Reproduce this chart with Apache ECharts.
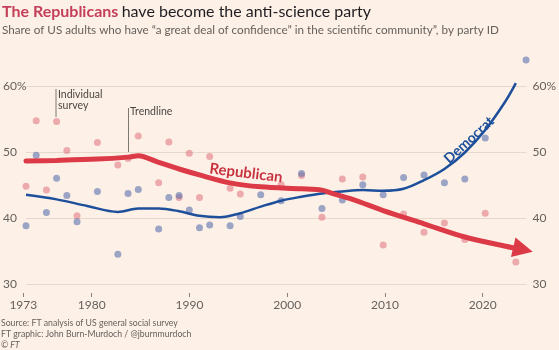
<!DOCTYPE html>
<html>
<head>
<meta charset="utf-8">
<script src="https://cdn.jsdelivr.net/npm/echarts@6/dist/echarts.min.js"></script>
<style>
html,body{margin:0;padding:0;background:#fdf1e7;}
#chart{width:559px;height:350px;}
</style>
</head>
<body>
<div id="chart"></div>
<script>
// ---- data ----
const tickYears = [1973, 1980, 1990, 2000, 2010, 2020];
const yTicks = [30, 40, 50, 60];

const repYears = [1973,1974,1975,1976,1977,1978,1980,1982,1983,1984,1986,1987,1988,1989,1990,1991,1993,1994,1998,2000,2002,2004,2006,2008,2010,2012,2014,2016,2018,2021];
const repValues = [44.9,54.8,44.3,54.7,50.3,40.4,51.5,48.1,49.1,52.5,45.4,51.6,43.2,49.9,43.2,49.4,44.6,43.7,45.1,46.5,40.2,46.0,46.3,36.0,40.7,37.9,39.3,36.8,40.8,33.4];

const demYears = [1973,1974,1975,1976,1977,1978,1980,1982,1983,1984,1986,1987,1988,1989,1990,1991,1993,1994,1996,1998,2000,2002,2004,2006,2008,2010,2012,2014,2016,2018,2022];
const demValues = [38.9,49.6,40.9,46.1,43.5,39.5,44.1,34.6,43.8,44.4,38.4,43.2,43.5,41.3,38.6,39.0,38.9,40.3,43.6,42.7,46.8,41.5,42.8,45.1,43.6,46.2,46.6,45.4,46.0,52.2,64.0];

const repTrendYears = [1973,1976,1980,1983,1984,1986,1988,1990,1993,1996,2000,2002,2003,2005,2008,2012,2016,2020,2021.7];
const repTrendValues = [48.7,48.8,49.0,49.3,49.5,48.5,47.5,46.6,45.4,44.8,44.5,44.3,43.8,42.9,41.2,39.2,37.2,35.8,35.3];

const demTrendYears = [1973,1976,1979,1982,1984,1986,1988,1990,1992,1994,1996,1998,2000,2002,2004,2006,2008,2010,2012,2014,2016,2018,2020,2021];
const demTrendValues = [43.6,42.9,41.9,41.0,41.5,41.5,41.1,40.4,40.2,40.8,41.8,42.7,43.3,43.8,44.1,44.3,44.2,44.5,45.8,47.5,50.0,53.4,57.8,60.5];

const pairs = (xs, ys) => xs.map((x, i) => [x, ys[i]]);

const grey = '#66605c';
const fontFam = 'Lato, "Open Sans", sans-serif';

const repTrendData = pairs(repTrendYears, repTrendValues).map((p, i, a) =>
  i === a.length - 1 ? {value: p, symbol: 'triangle', symbolSize: [20, 20], symbolRotate: -103} : {value: p}
);

const chart = echarts.init(document.getElementById('chart'), null, {renderer: 'canvas'});
chart.setOption({
  backgroundColor: '#fdf1e7',
  animation: false,
  textStyle: {fontFamily: fontFam},
  grid: [
    {left: 25, right: 22, top: 86.5, bottom: 65.5},
    {left: 10, right: 10, top: 86.5, bottom: 65.5}
  ],
  xAxis: [
    {
      type: 'value', gridIndex: 1, min: 1971.639, max: 2026.786,
      offset: 8.5,
      axisLine: {show: false},
      splitLine: {show: false},
      axisTick: {show: true, length: 4, customValues: tickYears, lineStyle: {color: '#8a837d'}},
      axisLabel: {customValues: tickYears, color: grey, fontSize: 12, margin: 6, fontFamily: fontFam,
        formatter: v => String(v)}
    },
    {
      type: 'value', gridIndex: 0, min: 1973, max: 2022.04, show: false
    }
  ],
  yAxis: [
    {
      type: 'value', gridIndex: 0, min: 30, max: 60, interval: 10, position: 'left',
      axisLine: {show: false}, axisTick: {show: false},
      splitLine: {lineStyle: {color: '#e6d8cb', width: 1}},
      axisLabel: {align: 'left', margin: 23, color: grey, fontSize: 12, fontFamily: fontFam,
        formatter: v => v === 60 ? '60%' : String(v)}
    },
    {
      type: 'value', gridIndex: 0, min: 30, max: 60, interval: 10, position: 'right',
      axisLine: {show: false}, axisTick: {show: false}, splitLine: {show: false},
      axisLabel: {align: 'left', margin: 6, color: grey, fontSize: 12, fontFamily: fontFam,
        formatter: v => v === 60 ? '60%' : String(v)}
    },
    {type: 'value', gridIndex: 1, min: 30, max: 60, show: false}
  ],
  series: [
    {
      type: 'scatter', xAxisIndex: 1, yAxisIndex: 0, clip: false,
      data: pairs(repYears, repValues), symbolSize: 7,
      itemStyle: {color: '#e27b86', opacity: 0.6}, z: 2
    },
    {
      type: 'scatter', xAxisIndex: 1, yAxisIndex: 0, clip: false,
      data: pairs(demYears, demValues), symbolSize: 7,
      itemStyle: {color: '#5a71ad', opacity: 0.6}, z: 2
    },
    {
      type: 'line', xAxisIndex: 1, yAxisIndex: 0, clip: false,
      data: pairs(demTrendYears, demTrendValues), smooth: 0.35,
      symbol: 'none', lineStyle: {color: '#1d4f9b', width: 2.5}, z: 3
    },
    {
      type: 'line', xAxisIndex: 1, yAxisIndex: 0, clip: false,
      data: repTrendData, smooth: 0.3, symbol: 'none', showSymbol: true,
      lineStyle: {color: '#dc3a47', width: 5, cap: 'round'},
      itemStyle: {color: '#dc3a47', opacity: 1}, z: 4
    }
  ],
  graphic: [
    {type: 'text', left: 2, top: 4, style: {
      text: '{r|The Republicans} {d|have become the anti-science party}',
      rich: {
        r: {fontSize: 16, fontWeight: 'bold', fill: '#c4405a', fontFamily: fontFam},
        d: {fontSize: 16, fill: '#1f1d22', fontFamily: fontFam}
      }}},
    {type: 'text', left: 2, top: 24, style: {
      text: 'Share of US adults who have \u201ca great deal of confidence\u201d in the scientific community\u201d, by party ID',
      fontSize: 11.7, fill: grey, fontFamily: fontFam}},
    {type: 'text', left: 1, top: 319, style: {
      text: 'Source: FT analysis of US general social survey', fontSize: 8.7, fill: grey, fontFamily: fontFam}},
    {type: 'text', left: 1, top: 330, style: {
      text: 'FT graphic: John Burn-Murdoch / @jburnmurdoch', fontSize: 8.7, fill: grey, fontFamily: fontFam}},
    {type: 'text', left: 1, top: 341, style: {
      text: '\u00a9 FT', fontSize: 8.7, fill: grey, fontFamily: fontFam, fontStyle: 'italic'}},
    // annotations
    {type: 'line', shape: {x1: 56, y1: 89, x2: 56, y2: 117}, style: {stroke: '#7d7772', lineWidth: 1}},
    {type: 'text', x: 58, y: 89, style: {text: 'Individual\nsurvey', fontSize: 10.5, lineHeight: 11, fill: '#4a4541', fontFamily: fontFam}},
    {type: 'line', shape: {x1: 128.5, y1: 108, x2: 128.5, y2: 152}, style: {stroke: '#7d7772', lineWidth: 1}},
    {type: 'text', x: 130, y: 106, style: {text: 'Trendline', fontSize: 10.5, fill: '#4a4541', fontFamily: fontFam}},
    {type: 'text', x: 246, y: 173, rotation: -0.122, z: 10, style: {
      text: 'Republican', x: 0, y: 0, align: 'center', verticalAlign: 'middle',
      fontSize: 15, fontWeight: 'bold', fill: '#c8323f', fontFamily: fontFam}},
    {type: 'text', x: 469, y: 140, rotation: 0.74, z: 10, style: {
      text: 'Democrat', x: 0, y: 0, align: 'center', verticalAlign: 'middle',
      fontSize: 14, fontWeight: 'bold', fill: '#1d4f9b', fontFamily: fontFam}}
  ]
});
</script>
</body>
</html>
